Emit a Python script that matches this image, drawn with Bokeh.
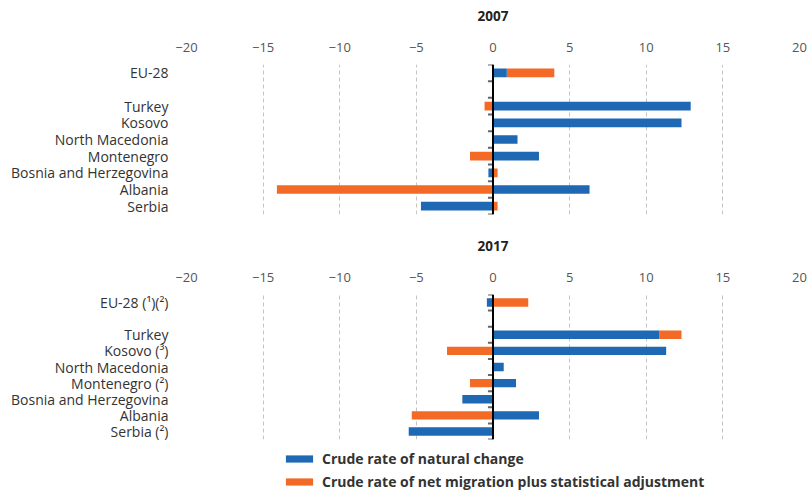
from bokeh.plotting import figure
from bokeh.models import FixedTicker, Span, Range1d, Legend, LegendItem, ColumnDataSource
from bokeh.layouts import column
from bokeh.embed import file_html
from bokeh.resources import INLINE

# ---- data ----
x_ticks = [-20, -15, -10, -5, 0, 5, 10, 15, 20]

categories_2007 = ["EU-28", "Turkey", "Kosovo", "North Macedonia", "Montenegro",
                   "Bosnia and Herzegovina", "Albania", "Serbia"]
natural_2007 = [0.9, 12.9, 12.3, 1.6, 3.0, -0.3, 6.3, -4.7]
migration_2007 = [3.1, -0.55, 0.0, 0.0, -1.5, 0.3, -14.1, 0.3]

categories_2017 = ["EU-28 (¹)(²)", "Turkey", "Kosovo (³)", "North Macedonia", "Montenegro (²)",
                   "Bosnia and Herzegovina", "Albania", "Serbia (²)"]
natural_2017 = [-0.4, 10.85, 11.3, 0.7, 1.5, -2.0, 3.0, -5.5]
migration_2017 = [2.3, 1.45, -3.0, 0.0, -1.5, 0.0, -5.3, 0.0]

series_names = ["Crude rate of natural change",
                "Crude rate of net migration plus statistical adjustment"]

BLUE = "#1f68b3"
ORANGE = "#f26a26"
FONT = "Open Sans"
W = 808
LEFT = 186
RIGHT = 9


def make_panel(title, cats, nat, mig, height, top, bottom):
    n = len(cats)
    ypos = [n if i == 0 else n - 1 - i for i in range(n)]
    p = figure(width=W, height=height, output_backend="svg", toolbar_location=None,
               x_axis_location="above", x_range=Range1d(-20, 20),
               y_range=Range1d(-0.5, n + 0.5),
               min_border_left=LEFT, min_border_right=RIGHT,
               min_border_top=top, min_border_bottom=bottom)
    p.outline_line_color = None
    p.background_fill_color = "white"
    p.border_fill_color = "white"

    xa = p.xaxis[0]
    xa.axis_label = title
    xa.axis_label_text_font = FONT
    xa.axis_label_text_font_style = "bold"
    xa.axis_label_text_font_size = "13.5px"
    xa.axis_label_text_color = "#222222"
    xa.axis_label_standoff = 19
    xa.ticker = FixedTicker(ticks=x_ticks)
    xa.major_label_overrides = {t: (("\u2212" + str(abs(t))) if t < 0 else str(t)) for t in x_ticks}
    xa.axis_line_color = None
    xa.major_tick_line_color = None
    xa.minor_tick_line_color = None
    xa.major_tick_out = 0
    xa.major_label_text_font = FONT
    xa.major_label_text_font_size = "13px"
    xa.major_label_text_color = "#555555"
    xa.major_label_standoff = 13

    ya = p.yaxis[0]
    ya.ticker = FixedTicker(ticks=ypos)
    ya.major_label_overrides = {y: c for y, c in zip(ypos, cats)}
    ya.axis_line_color = None
    ya.major_tick_line_color = None
    ya.minor_tick_line_color = None
    ya.major_tick_out = 0
    ya.major_label_standoff = 18
    ya.major_label_text_font = FONT
    ya.major_label_text_font_size = "14px"
    ya.major_label_text_color = "#333333"

    p.xgrid.grid_line_color = "#c4c4c4"
    p.xgrid.grid_line_dash = "4 3"
    p.xgrid.grid_line_width = 1
    p.ygrid.grid_line_color = None

    # stacked segments
    o_left = [a if (a * b > 0) else 0 for a, b in zip(nat, mig)]
    o_right = [l + b for l, b in zip(o_left, mig)]
    src = ColumnDataSource(dict(y=ypos, nat=nat, zero=[0] * n, ol=o_left, orr=o_right))
    p.hbar(y="y", left="ol", right="orr", height=0.52, source=src,
           fill_color=ORANGE, line_color=None)
    p.hbar(y="y", left="zero", right="nat", height=0.52, source=src,
           fill_color=BLUE, line_color=None)

    # zero line with small category separators
    bounds = [k - 0.5 for k in range(n + 2)]
    p.segment(x0=[-0.33] * len(bounds), x1=[0] * len(bounds), y0=bounds, y1=bounds,
              line_color="#666666", line_width=2)
    p.add_layout(Span(location=0, dimension="height", line_color="black", line_width=2))
    return p


p1 = make_panel("2007", categories_2007, natural_2007, migration_2007, 230, 64, 16)
p2 = make_panel("2017", categories_2017, natural_2017, migration_2017, 218, 64, 9)

p3 = figure(width=W, height=43, output_backend="svg", toolbar_location=None,
            x_axis_location=None, y_axis_location=None,
            x_range=Range1d(0, 1), y_range=Range1d(0, 1),
            min_border_left=LEFT, min_border_right=RIGHT, min_border_top=0, min_border_bottom=0)
p3.outline_line_color = None
p3.xgrid.visible = False
p3.ygrid.visible = False
dummy = ColumnDataSource(dict(y=[-100], l=[0], r=[0]))
r_blue = p3.hbar(y="y", left="l", right="r", height=0.5, source=dummy, fill_color=BLUE, line_color=None)
r_orange = p3.hbar(y="y", left="l", right="r", height=0.5, source=dummy, fill_color=ORANGE, line_color=None)
legend = Legend(items=[LegendItem(label=series_names[0], renderers=[r_blue]),
                       LegendItem(label=series_names[1], renderers=[r_orange])],
                location=(96, 0), glyph_width=34, glyph_height=9, label_standoff=6,
                label_height=17, spacing=4, padding=0, margin=0,
                border_line_color=None, background_fill_alpha=0,
                label_text_font=FONT, label_text_font_style="bold",
                label_text_font_size="14px", label_text_color="#333333")
p3.add_layout(legend)

layout = column(p1, p2, p3, spacing=0)
open("out.html", "w").write(file_html(layout, INLINE))
